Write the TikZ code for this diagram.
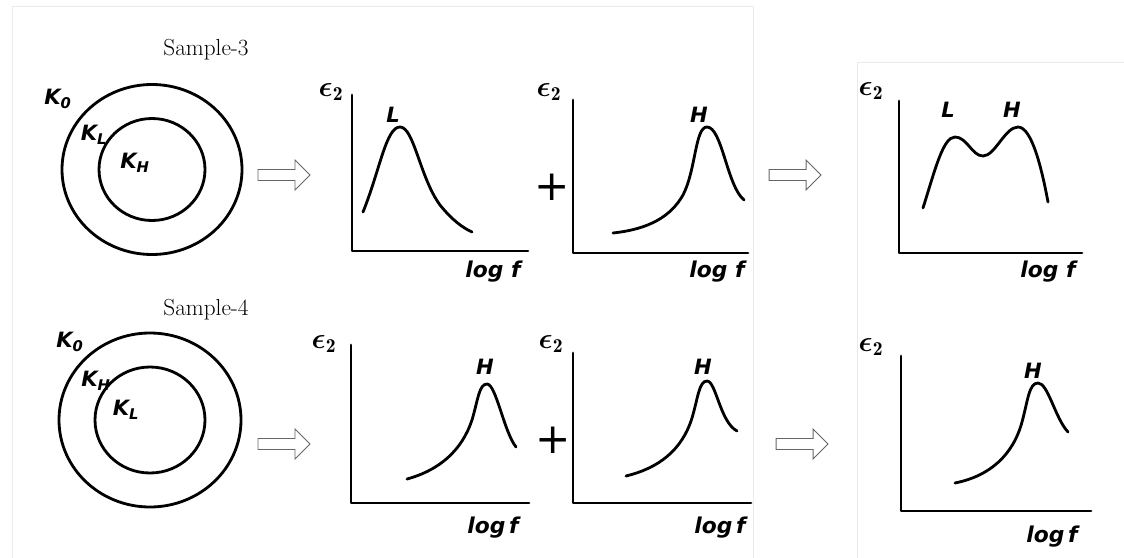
\documentclass[tikz,border=0pt]{standalone}
\usepackage{amsmath, bm}
\usepackage{fontspec}
\setsansfont{DejaVu Sans}
\usetikzlibrary{positioning}

\begin{document}
\begin{tikzpicture}[
  x=0.025cm, y=-0.025cm,
  hand/.style={font=\sffamily\bfseries\itshape\fontsize{15}{15}\selectfont, inner sep=0pt},
  peak/.style={hand, font=\sffamily\bfseries\itshape\fontsize{15}{15}\selectfont},
  logf/.style={hand, font=\sffamily\bfseries\itshape\fontsize{15.5}{15}\selectfont},
  epsl/.style={inner sep=0pt, font=\fontsize{20}{20}\selectfont},
  title/.style={inner sep=0pt, font=\fontsize{16.5}{18}\selectfont},
  plus/.style={inner sep=0pt, font=\sffamily\fontsize{30}{30}\selectfont},
  axis/.style={line width=2pt, line cap=round, line join=round},
  curve/.style={line width=2pt, line cap=round},
  ring/.style={line width=2pt},
  hollow/.style={draw=black!60, line width=0.7pt, fill=white},
  frame/.style={draw=black!8, line width=0.5pt},
]
\useasboundingbox (0,0) rectangle (1124,558);
% faint page frames
\draw[frame] (12,558) -- (12,6) -- (753,6) -- (753,558);
\draw[frame] (857,558) -- (857,62) -- (1124,62);

% Sample-3 / Sample-4 rings
\node[title] (t3) at (206,50) {Sample-3};
\node[title] (t4) at (206,310) {Sample-4};
\coordinate (s3) at (152,169.5);
\coordinate (s4) at (150,420);
\draw[ring] (s3) ellipse [x radius=90, y radius=85];
\draw[ring] (s3) ellipse [x radius=53, y radius=51];
\draw[ring] (s4) ellipse [x radius=91, y radius=87];
\draw[ring] (s4) ellipse [x radius=55, y radius=53];
\node[hand] (k3o) at (58,99) {K$_{\text{0}}$};
\node[hand] (k3l) at (94,135) {K$_{\text{L}}$};
\node[hand] (k3h) at (135,163) {K$_{\text{H}}$};
\node[hand] (k4o) at (70,342) {K$_{\text{0}}$};
\node[hand] (k4h) at (96,381) {K$_{\text{H}}$};
\node[hand] (k4l) at (126,410) {K$_{\text{L}}$};

% hollow arrows
\foreach \n/\x/\y in {a1/258/175, a2/769/175, a3/258/444, a4/776/444}{
  \draw[hollow] (\x,\y-5.5) coordinate (\n) -- ++(37,0) -- ++(0,-9.5) -- ++(15,15)
    -- ++(-15,15) -- ++(0,-9.5) -- ++(-37,0) -- cycle;
}

% axes
\foreach \n/\ax/\at/\ab/\ar in {p1/352/95/251/528, p2/573/100/253/748,
  p3/899/101/253/1082, q1/351/345/503/529, q2/573/353/503/751, q3/901/356/511/1091}{
  \draw[axis] (\ax,\at) coordinate (\n top) -- (\ax,\ab) coordinate (\n org)
    -- (\ar,\ab) coordinate (\n end);
}
% axis labels
\foreach \n/\ex/\ey/\lx/\ly/\txt in {p1/331/92/493/272/{log f}, p2/549/92/717/272/{log f},
  p3/871/91/1048/272/{log f}, q1/324/344/493/528/{log\,f}, q2/551/344/720/528/{log\,f},
  q3/871/347/1052/537/{log\,f}}{
  \node[epsl] (\n eps) at (\ex,\ey) {$\bm{\epsilon}_{\mathbf{2}}$};
  \node[logf] (\n log) at (\lx,\ly) {\txt};
}
\node[plus] (plus1) at (552,187) {+};
\node[plus] (plus2) at (553,440) {+};

% peak labels
\node[peak] (pl1) at (393,115) {L};
\node[peak] (ph2) at (699,115) {H};
\node[peak] (pl3) at (948,110) {L};
\node[peak] (ph3) at (1012,110) {H};
\node[peak] (qh1) at (485,367) {H};
\node[peak] (qh2) at (703,367) {H};
\node[peak] (qh3) at (1033,371) {H};

% curves
\draw[curve] (363,212) .. controls (380,170) and (386,127) .. (400,127)
  .. controls (414,127) and (420,178) .. (440,205)
  .. controls (452,220) and (463,228) .. (472,232);
\draw[curve] (613,233) .. controls (650,229) and (671,216) .. (683,195)
  .. controls (696,170) and (695,127) .. (707,127)
  .. controls (722,127) and (727,186) .. (744,200);
\draw[curve] (923,208) .. controls (935,170) and (943,137) .. (955,137)
  .. controls (967,137) and (972,156) .. (983,156)
  .. controls (995,156) and (1005,127) .. (1018,127)
  .. controls (1032,127) and (1042,170) .. (1048,202);
\draw[curve] (407,479) .. controls (440,470) and (462,450) .. (472,420)
  .. controls (478,400) and (479,384) .. (487,384)
  .. controls (496,384) and (504,432) .. (516,447);
\draw[curve] (626,476) .. controls (659,468) and (682,450) .. (692,418)
  .. controls (698,398) and (699,381) .. (707,381)
  .. controls (716,381) and (720,422) .. (737,431);
\draw[curve] (955,483) .. controls (990,476) and (1013,455) .. (1022,422)
  .. controls (1028,400) and (1029,383) .. (1038,383)
  .. controls (1048,383) and (1055,418) .. (1068,432);
\end{tikzpicture}
\end{document}
